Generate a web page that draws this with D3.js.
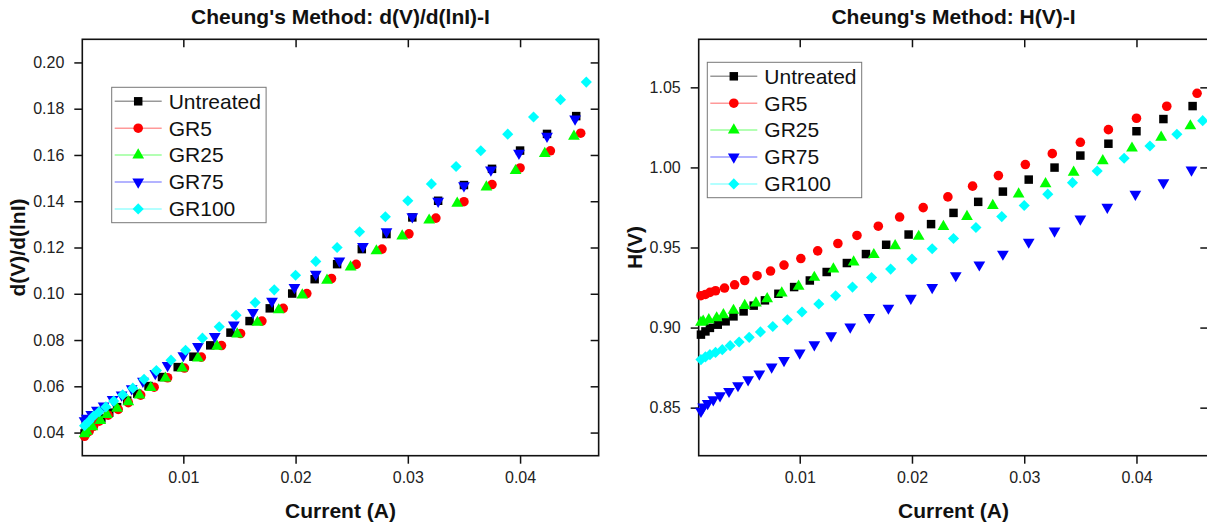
<!DOCTYPE html>
<html lang="en">
<head>
    <meta charset="UTF-8">
    <title>Cheung's Method</title>
    <style>
        body { margin: 0; background: #fff; }
        svg { display: block; font-family: "Liberation Sans", Arial, sans-serif; }
        .tick text { font-size: 16px; fill: #222; }
        .tick line { stroke: #111; stroke-width: 1.5; }
    </style>
    <script src="https://d3js.org/d3.v7.min.js"></script>
</head>
<body>
<script>
// ---- data ----
const seriesNames = ["Untreated", "GR5", "GR25", "GR75", "GR100"];
const seriesColors = ["#000000", "#ff0000", "#00ff00", "#0000ff", "#00ffff"];

const untreatedI = [0.0012, 0.0016, 0.0020, 0.0027, 0.0034, 0.0041, 0.0050, 0.0059, 0.0069, 0.0081, 0.0095, 0.0109, 0.0124, 0.0142, 0.0159, 0.0177, 0.0197, 0.0217, 0.0237, 0.0259, 0.0281, 0.0304, 0.0327, 0.0350, 0.0375, 0.0400, 0.0424, 0.0450];
const untreatedDV = [0.0396, 0.0418, 0.0437, 0.0461, 0.0486, 0.0510, 0.0538, 0.0568, 0.0601, 0.0640, 0.0683, 0.0728, 0.0777, 0.0832, 0.0882, 0.0937, 0.1001, 0.1063, 0.1128, 0.1193, 0.1258, 0.1330, 0.1402, 0.1470, 0.1540, 0.1619, 0.1691, 0.1768];
const untreatedH = [0.8956, 0.8976, 0.8998, 0.9018, 0.9039, 0.9070, 0.9101, 0.9137, 0.9170, 0.9211, 0.9253, 0.9294, 0.9347, 0.9403, 0.9459, 0.9517, 0.9581, 0.9646, 0.9716, 0.9785, 0.9849, 0.9924, 0.9999, 1.0074, 1.0148, 1.0226, 1.0302, 1.0383];

const gr5I = [0.0012, 0.0016, 0.0020, 0.0025, 0.0033, 0.0042, 0.0051, 0.0062, 0.0074, 0.0086, 0.0101, 0.0116, 0.0134, 0.0151, 0.0170, 0.0189, 0.0210, 0.0232, 0.0254, 0.0277, 0.0301, 0.0325, 0.0350, 0.0375, 0.0400, 0.0427, 0.0454];
const gr5DV = [0.0384, 0.0405, 0.0427, 0.0449, 0.0475, 0.0500, 0.0529, 0.0562, 0.0596, 0.0637, 0.0679, 0.0726, 0.0776, 0.0828, 0.0882, 0.0937, 0.1001, 0.1066, 0.1127, 0.1193, 0.1259, 0.1327, 0.1398, 0.1472, 0.1544, 0.1618, 0.1694];
const gr5H = [0.9199, 0.9207, 0.9220, 0.9230, 0.9247, 0.9267, 0.9294, 0.9324, 0.9353, 0.9390, 0.9431, 0.9479, 0.9525, 0.9575, 0.9633, 0.9690, 0.9749, 0.9816, 0.9883, 0.9949, 1.0018, 1.0086, 1.0157, 1.0236, 1.0307, 1.0382, 1.0463];

const gr25I = [0.0012, 0.0014, 0.0019, 0.0026, 0.0032, 0.0041, 0.0051, 0.0061, 0.0071, 0.0084, 0.0099, 0.0113, 0.0130, 0.0148, 0.0166, 0.0185, 0.0206, 0.0228, 0.0249, 0.0272, 0.0295, 0.0319, 0.0344, 0.0370, 0.0396, 0.0422, 0.0448];
const gr25DV = [0.0394, 0.0405, 0.0425, 0.0452, 0.0478, 0.0505, 0.0533, 0.0562, 0.0594, 0.0635, 0.0679, 0.0722, 0.0773, 0.0826, 0.0876, 0.0930, 0.0994, 0.1058, 0.1115, 0.1185, 0.1249, 0.1318, 0.1391, 0.1461, 0.1532, 0.1606, 0.1681];
const gr25H = [0.9032, 0.9039, 0.9049, 0.9060, 0.9080, 0.9107, 0.9137, 0.9153, 0.9180, 0.9216, 0.9257, 0.9313, 0.9365, 0.9409, 0.9455, 0.9511, 0.9569, 0.9631, 0.9693, 0.9762, 0.9833, 0.9897, 0.9970, 1.0041, 1.0120, 1.0188, 1.0259];

const gr75I = [0.0012, 0.0014, 0.0018, 0.0023, 0.0029, 0.0037, 0.0045, 0.0054, 0.0064, 0.0075, 0.0086, 0.0100, 0.0113, 0.0128, 0.0145, 0.0162, 0.0179, 0.0199, 0.0218, 0.0239, 0.0260, 0.0281, 0.0304, 0.0327, 0.0350, 0.0374, 0.0399, 0.0424, 0.0449];
const gr75DV = [0.0452, 0.0462, 0.0478, 0.0497, 0.0515, 0.0543, 0.0563, 0.0590, 0.0622, 0.0656, 0.0690, 0.0733, 0.0772, 0.0816, 0.0865, 0.0919, 0.0968, 0.1027, 0.1085, 0.1142, 0.1205, 0.1268, 0.1333, 0.1400, 0.1467, 0.1535, 0.1608, 0.1681, 0.1756];
const gr75H = [0.8478, 0.8505, 0.8526, 0.8550, 0.8575, 0.8602, 0.8638, 0.8675, 0.8711, 0.8754, 0.8795, 0.8842, 0.8893, 0.8949, 0.9004, 0.9064, 0.9122, 0.9184, 0.9251, 0.9325, 0.9392, 0.9459, 0.9534, 0.9604, 0.9679, 0.9752, 0.9833, 0.9905, 0.9984];

const gr100I = [0.0012, 0.0016, 0.0020, 0.0025, 0.0031, 0.0038, 0.0046, 0.0055, 0.0065, 0.0076, 0.0089, 0.0102, 0.0117, 0.0132, 0.0147, 0.0164, 0.0181, 0.0200, 0.0218, 0.0237, 0.0257, 0.0280, 0.0300, 0.0321, 0.0343, 0.0365, 0.0389, 0.0412, 0.0436, 0.0459];
const gr100DV = [0.0430, 0.0449, 0.0471, 0.0490, 0.0511, 0.0536, 0.0563, 0.0592, 0.0630, 0.0668, 0.0713, 0.0756, 0.0808, 0.0857, 0.0907, 0.0962, 0.1017, 0.1080, 0.1140, 0.1200, 0.1268, 0.1333, 0.1402, 0.1475, 0.1550, 0.1618, 0.1690, 0.1764, 0.1839, 0.1915];
const gr100H = [0.8800, 0.8817, 0.8831, 0.8845, 0.8862, 0.8887, 0.8910, 0.8939, 0.8973, 0.9007, 0.9049, 0.9097, 0.9147, 0.9199, 0.9253, 0.9312, 0.9365, 0.9428, 0.9492, 0.9556, 0.9625, 0.9693, 0.9762, 0.9833, 0.9905, 0.9978, 1.0057, 1.0134, 1.0207, 1.0292];

const currentTicks = [0.01, 0.02, 0.03, 0.04];
const dvTicks = [0.04, 0.06, 0.08, 0.10, 0.12, 0.14, 0.16, 0.18, 0.20];
const hTicks = [0.85, 0.90, 0.95, 1.00, 1.05];

// ---- canvas ----
var W = 1207, H = 525;
var svg = d3.select("body").append("svg").attr("width", W).attr("height", H);
svg.append("rect").attr("width", W).attr("height", H).attr("fill", "#fff");

var plotH = 416.4, plotTop = 39.3;
var pxPerAmp = 11225; // same horizontal scale in both panels

// marker shapes, same order as seriesNames
var shapes = [
    {type: d3.symbolSquare, size: 72, rot: 0},
    {type: d3.symbolCircle, size: 72, rot: 0},
    {type: d3.symbolTriangle, size: 60, rot: 0},
    {type: d3.symbolTriangle, size: 60, rot: 180},
    {type: d3.symbolSquare, size: 62, rot: 45}
];

function drawPanel(opt) {
    var plotW = (opt.xDomain[1] - opt.xDomain[0]) * pxPerAmp;
    var g = svg.append("g").attr("transform", "translate(" + opt.left + "," + plotTop + ")");

    var x = d3.scaleLinear().domain(opt.xDomain).range([0, plotW]);
    var y = d3.scaleLinear().domain(opt.yDomain).range([plotH, 0]);

    // axes: labelled bottom/left, mirrored ticks on top/right
    g.append("g").attr("transform", "translate(0," + plotH + ")")
        .call(d3.axisBottom(x).tickValues(currentTicks).tickSize(8).tickPadding(8).tickFormat(d3.format(".2f")))
        .call(a => a.select(".domain").remove());
    g.append("g")
        .call(d3.axisBottom(x).tickValues(currentTicks).tickSize(8).tickFormat(""))
        .call(a => a.select(".domain").remove());
    g.append("g")
        .call(d3.axisLeft(y).tickValues(opt.yTicks).tickSize(8).tickPadding(10).tickFormat(d3.format(".2f")))
        .call(a => a.select(".domain").remove());
    g.append("g").attr("transform", "translate(" + plotW + ",0)")
        .call(d3.axisLeft(y).tickValues(opt.yTicks).tickSize(8).tickFormat(""))
        .call(a => a.select(".domain").remove());

    g.append("rect")
        .attr("width", plotW).attr("height", plotH)
        .attr("fill", "none").attr("stroke", "#111").attr("stroke-width", 1.6);

    // points
    opt.series.forEach(function (s, k) {
        var sym = d3.symbol().type(shapes[k].type).size(shapes[k].size);
        g.append("g").selectAll("path")
            .data(s.I.map((v, i) => [v, s.v[i]]))
            .join("path")
            .attr("d", sym)
            .attr("transform", d => "translate(" + x(d[0]) + "," + y(d[1]) + ") rotate(" + shapes[k].rot + ")")
            .attr("fill", seriesColors[k]);
    });

    // legend
    var lg = g.append("g").attr("transform", "translate(" + opt.legend[0] + "," + opt.legend[1] + ")");
    lg.append("rect").attr("width", 154.4).attr("height", 135.4)
        .attr("fill", "#fff").attr("stroke", "#777").attr("stroke-width", 1);
    seriesNames.forEach(function (name, k) {
        var row = lg.append("g").attr("transform", "translate(0," + (14 + k * 26.9) + ")");
        row.append("line").attr("x1", 3).attr("x2", 50)
            .attr("stroke", seriesColors[k]).attr("stroke-opacity", 0.4).attr("stroke-width", 1.5);
        row.append("path")
            .attr("d", d3.symbol().type(shapes[k].type).size(shapes[k].size))
            .attr("transform", "translate(26.5,0) rotate(" + shapes[k].rot + ")")
            .attr("fill", seriesColors[k]);
        row.append("text").attr("x", 57).attr("dy", "0.35em")
            .attr("font-size", 21).attr("fill", "#111").text(name);
    });

    // titles
    svg.append("text")
        .attr("x", opt.left + plotW / 2).attr("y", 23.5)
        .attr("text-anchor", "middle").attr("font-size", 21).attr("font-weight", "bold")
        .attr("fill", "#111").text(opt.title);
    svg.append("text")
        .attr("x", opt.left + plotW / 2).attr("y", 518)
        .attr("text-anchor", "middle").attr("font-size", 21).attr("font-weight", "bold")
        .attr("fill", "#111").text("Current (A)");
    svg.append("text")
        .attr("transform", "translate(" + (opt.left - 57) + "," + (plotTop + plotH / 2) + ") rotate(-90)")
        .attr("text-anchor", "middle").attr("font-size", 21).attr("font-weight", "bold")
        .attr("fill", "#111").text(opt.yLabel);
}

drawPanel({
    left: 82.3,
    xDomain: [0.001, 0.047],
    yDomain: [0.03, 0.21],
    yTicks: dvTicks,
    title: "Cheung's Method: d(V)/d(lnI)-I",
    yLabel: "d(V)/d(lnI)",
    legend: [29.4, 48],
    series: [
        {I: untreatedI, v: untreatedDV},
        {I: gr5I, v: gr5DV},
        {I: gr25I, v: gr25DV},
        {I: gr75I, v: gr75DV},
        {I: gr100I, v: gr100DV}
    ]
});

drawPanel({
    left: 698.7,
    xDomain: [0.001, 0.0464],
    yDomain: [0.82, 1.08],
    yTicks: hTicks,
    title: "Cheung's Method: H(V)-I",
    yLabel: "H(V)",
    legend: [8.6, 23],
    series: [
        {I: untreatedI, v: untreatedH},
        {I: gr5I, v: gr5H},
        {I: gr25I, v: gr25H},
        {I: gr75I, v: gr75H},
        {I: gr100I, v: gr100H}
    ]
});
</script>
</body>
</html>
